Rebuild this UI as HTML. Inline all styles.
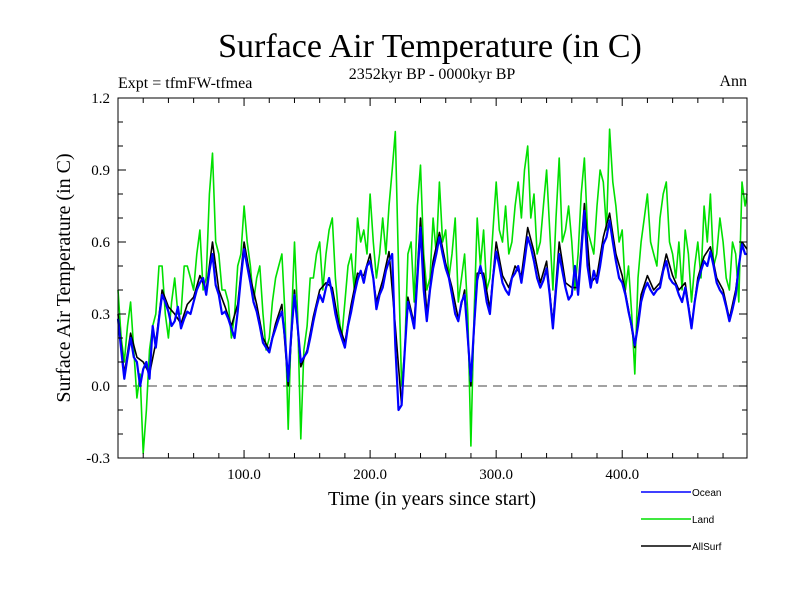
<!DOCTYPE html>
<html><head><meta charset="utf-8"><style>
body{margin:0;background:#fff}
svg{display:block;font-family:"Liberation Serif",serif}
</style></head><body>
<svg id="c" width="800" height="600">
<text x="430" y="57" font-size="34" text-anchor="middle">Surface Air Temperature (in C)</text>
<text x="432" y="79" font-size="16" text-anchor="middle">2352kyr BP - 0000kyr BP</text>
<text x="118" y="88" font-size="16">Expt = tfmFW-tfmea</text>
<text x="747" y="86" font-size="16" text-anchor="end">Ann</text>
<text transform="translate(70,278) rotate(-90)" font-size="20" text-anchor="middle">Surface Air Temperature (in C)</text>
<text x="432" y="505" font-size="20" text-anchor="middle">Time (in years since start)</text>
<g id="plot"></g>
</svg>
<script>
const years=[];for(let i=0;i<100;i++)years.push(i*5);years.push(499);
const midYears=[];for(let i=0;i<100;i++)midYears.push(i*5+2.5);
const ocean=[.28,.03,.2,.1,.07,.03,.16,.38,.31,.27,.24,.31,.35,.43,.38,.55,.38,.31,.24,.31,
.57,.43,.31,.18,.14,.24,.31,.02,.38,.1,.14,.27,.38,.41,.38,.24,.16,.31,.44,.43,
.52,.32,.41,.52,.17,-.08,.35,.24,.66,.27,.49,.62,.49,.38,.27,.38,.02,.44,.44,.3,
.56,.43,.38,.47,.43,.62,.52,.41,.49,.24,.55,.41,.38,.38,.73,.41,.43,.59,.69,.52,
.43,.31,.17,.35,.43,.38,.41,.52,.43,.38,.41,.24,.43,.52,.56,.43,.38,.27,.38,.59,.55];
const oceanMid=[.15,.12,.12,.0,.1,.25,.28,.35,.25,.33,.28,.3,.4,.45,.48,.42,.3,.28,.2,.45,
.5,.35,.25,.16,.2,.28,.2,.22,.25,.12,.2,.33,.35,.45,.3,.2,.25,.38,.48,.5,
.45,.38,.48,.55,-.1,.15,.3,.45,.4,.4,.55,.55,.45,.3,.35,.2,.25,.5,.35,.45,
.5,.4,.45,.5,.52,.58,.45,.44,.38,.4,.48,.36,.5,.55,.5,.48,.5,.62,.6,.45,
.38,.25,.25,.4,.4,.4,.48,.45,.42,.35,.33,.35,.48,.5,.5,.4,.33,.32,.5,.55];
const land=[.4,.1,.35,-.05,-.28,.15,.3,.5,.2,.45,.3,.5,.4,.65,.45,.97,.55,.4,.2,.5,
.75,.5,.45,.3,.2,.45,.55,-.18,.6,-.22,.25,.45,.6,.55,.7,.3,.35,.55,.7,.65,
.8,.45,.7,.75,1.06,.0,.55,.35,.92,.4,.7,.85,.65,.55,.35,.55,-.25,.7,.65,.45,
.85,.6,.55,.75,.7,1.0,.8,.6,.9,.4,.95,.65,.6,.55,.95,.6,.75,.85,1.07,.75,
.65,.5,.05,.6,.8,.55,.7,.85,.55,.6,.65,.35,.6,.75,.8,.55,.6,.4,.55,.85,.8];
const landMid=[.2,.25,.15,.05,-.1,.25,.5,.3,.35,.3,.5,.45,.55,.4,.8,.6,.4,.35,.3,.55,
.6,.35,.5,.15,.35,.5,.3,.25,.3,.15,.45,.55,.4,.65,.45,.2,.5,.4,.6,.55,
.6,.55,.55,.9,.5,.15,.6,.75,.55,.45,.55,.6,.45,.7,.45,.3,.3,.5,.4,.65,
.65,.75,.6,.85,.9,.7,.55,.75,.65,.7,.6,.75,.4,.8,.65,.55,.9,.65,.85,.6,
.4,.3,.45,.7,.6,.5,.8,.6,.45,.4,.55,.5,.45,.6,.5,.7,.45,.6,.35,.75];
const allSurf=[.3,.05,.22,.12,.1,.05,.18,.4,.33,.3,.26,.34,.37,.46,.4,.6,.4,.33,.25,.34,
.6,.45,.34,.2,.15,.26,.34,.0,.4,.08,.15,.29,.4,.43,.41,.26,.18,.34,.47,.46,
.55,.35,.44,.56,.25,-.08,.37,.26,.7,.3,.52,.64,.51,.41,.28,.4,.0,.47,.47,.32,
.6,.46,.41,.5,.46,.66,.56,.43,.52,.26,.6,.43,.41,.41,.76,.43,.46,.62,.72,.55,
.46,.32,.16,.38,.46,.4,.43,.55,.46,.4,.43,.25,.45,.54,.58,.45,.4,.28,.4,.6,.57];
const xTicks=[100,200,300,400];
const xTickLabels=["100.0","200.0","300.0","400.0"];
const yTicks=[1.2,0.9,0.6,0.3,0.0,-0.3];
const yTickLabels=["1.2","0.9","0.6","0.3","0.0","-0.3"];
const legendNames=["Ocean","Land","AllSurf"];
const legendColors=["#0000ff","#00e000","#000000"];

const L=118,R=747,T=98,B=458,X0=0,X1=499,Y0=-0.3,Y1=1.2;
const sx=v=>L+(v-X0)/(X1-X0)*(R-L);
const sy=v=>B-(v-Y0)/(Y1-Y0)*(B-T);
const NS="http://www.w3.org/2000/svg";
const g=document.getElementById('plot');
function mk(t,a,p){const e=document.createElementNS(NS,t);for(const k in a)e.setAttribute(k,a[k]);(p||g).appendChild(e);return e;}
function merge(main,mid){const pts=[];main.forEach((v,i)=>{pts.push([years[i],v]);if(i<mid.length)pts.push([midYears[i],mid[i]]);});return pts;}

let el=mk('line',{x1:L,x2:R,y1:sy(0),y2:sy(0),stroke:'#444','stroke-width':1,'stroke-dasharray':'9,6'});



function series(pts,color,w,name){
  const d=pts.map((p,i)=>(i?'L':'M')+sx(p[0]).toFixed(1)+','+sy(p[1]).toFixed(1)).join('');
  const p=mk('path',{d:d,fill:'none',stroke:color,'stroke-width':w,'stroke-linejoin':'round'});
  
  
}
series(merge(land,landMid),'#00e000',1.6,'land-line');
series(years.map((y,i)=>[y,allSurf[i]]),'#000000',1.6,'allsurf-line');
series(merge(ocean,oceanMid),'#0000ff',2.2,'ocean-line');

el=mk('rect',{x:L,y:T,width:R-L,height:B-T,fill:'none',stroke:'#000','stroke-width':1});



for(let v=20;v<X1;v+=20){const big=v%100===0;const len=big?8:5;
  mk('line',{x1:sx(v),x2:sx(v),y1:B,y2:B-len,stroke:'#000'});
  mk('line',{x1:sx(v),x2:sx(v),y1:T,y2:T+len,stroke:'#000'});}
for(let k=-3;k<=12;k++){const v=k/10;const big=k%3===0;const len=big?8:5;
  mk('line',{x1:L,x2:L+len,y1:sy(v),y2:sy(v),stroke:'#000'});
  mk('line',{x1:R,x2:R-len,y1:sy(v),y2:sy(v),stroke:'#000'});}
xTicks.forEach((v,i)=>{const t=mk('text',{x:sx(v),y:B+21,'font-size':15,'text-anchor':'middle'});t.textContent=xTickLabels[i];
  
  });
yTicks.forEach((v,i)=>{const t=mk('text',{x:L-8,y:sy(v)+5,'font-size':15,'text-anchor':'end'});t.textContent=yTickLabels[i];
  
  });
legendNames.forEach((n,i)=>{const y=492+i*27;
  const gg=mk('g',{});
  
  
  mk('line',{x1:641,x2:691,y1:y,y2:y,stroke:legendColors[i],'stroke-width':1.6},gg);
  const t=mk('text',{x:692,y:y+4,'font-size':10,'font-family':'Liberation Sans, sans-serif'},gg);t.textContent=n;});
</script>
</body></html>
